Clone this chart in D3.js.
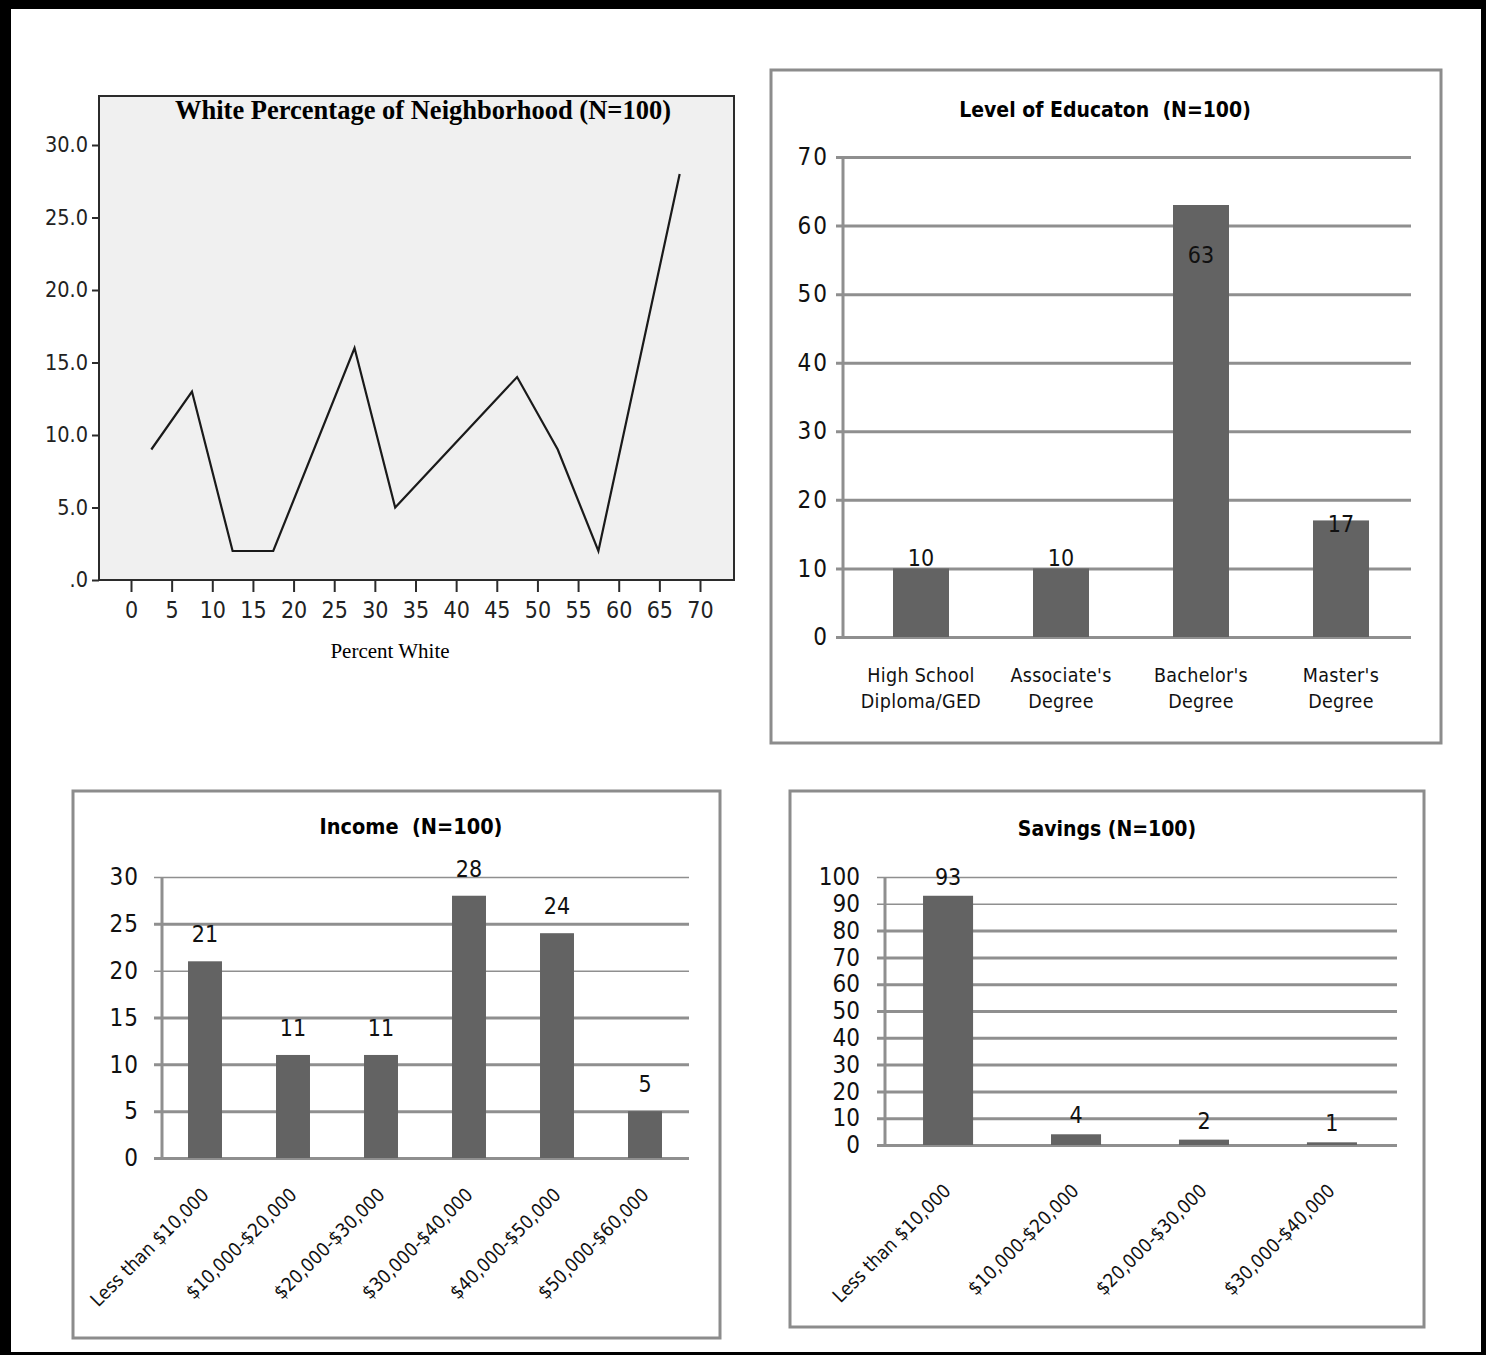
<!DOCTYPE html>
<html>
<head>
<meta charset="utf-8">
<script src="https://cdn.jsdelivr.net/npm/d3@7"></script>
<style>
  html, body { margin: 0; padding: 0; background: #fff; }
  svg { display: block; }
  text { white-space: pre; }
</style>
</head>
<body>
<svg id="fig" width="1486" height="1355"></svg>
<script>
// ---- Data ----
// Percent white of neighbourhood (frequency polygon, bin midpoints)
const pctWhiteMid = [2.5, 7.5, 12.5, 17.5, 27.5, 32.5, 47.5, 52.5, 57.5, 67.5];
const pctWhiteCount = [9, 13, 2, 2, 16, 5, 14, 9, 2, 28];
const pctWhiteXTicks = [0, 5, 10, 15, 20, 25, 30, 35, 40, 45, 50, 55, 60, 65, 70];
const pctWhiteYTicks = [0, 5, 10, 15, 20, 25, 30];

// Level of education
const eduCategories = [["High School", "Diploma/GED"], ["Associate's", "Degree"], ["Bachelor's", "Degree"], ["Master's", "Degree"]];
const eduCounts = [10, 10, 63, 17];
const eduYTicks = [0, 10, 20, 30, 40, 50, 60, 70];

// Income
const incomeCategories = ["Less than $10,000", "$10,000-$20,000", "$20,000-$30,000", "$30,000-$40,000", "$40,000-$50,000", "$50,000-$60,000"];
const incomeCounts = [21, 11, 11, 28, 24, 5];
const incomeYTicks = [0, 5, 10, 15, 20, 25, 30];

// Savings
const savingsCategories = ["Less than $10,000", "$10,000-$20,000", "$20,000-$30,000", "$30,000-$40,000"];
const savingsCounts = [93, 4, 2, 1];
const savingsYTicks = [0, 10, 20, 30, 40, 50, 60, 70, 80, 90, 100];

// ---- Styles ----
const NARROW = "'Liberation Sans Narrow', 'Arial Narrow', 'DejaVu Sans Condensed', 'Roboto', sans-serif";
const SERIF = "'Liberation Serif', 'Times New Roman', serif";
const GRID = "#8f8f8f";
const BAR = "#636363";

const svg = d3.select("#fig");

// Outer black frame
svg.append("rect").attr("x", 0).attr("y", 0).attr("width", 1486).attr("height", 1355).attr("fill", "#000");
svg.append("rect").attr("x", 11).attr("y", 9).attr("width", 1470).attr("height", 1343).attr("fill", "#fff");

// ================= Line chart: White Percentage of Neighborhood =================
(function () {
  const left = 99, right = 734, top = 96, bottom = 580;
  const x = d3.scaleLinear().domain([0, 70]).range([131, 700]);
  const y = d3.scaleLinear().domain([0, 33.38]).range([bottom, top]);
  const g = svg.append("g");

  g.append("rect").attr("x", left).attr("y", top).attr("width", right - left).attr("height", bottom - top)
    .attr("fill", "#f0f0f0").attr("stroke", "#2b2b2b").attr("stroke-width", 2);

  g.append("text").attr("x", 423).attr("y", 119).attr("text-anchor", "middle")
    .attr("font-family", SERIF).attr("font-weight", "bold").attr("font-size", 26.5)
    .text("White Percentage of Neighborhood (N=100)");

  const yAxis = d3.axisLeft(y).tickValues(pctWhiteYTicks).tickSize(7).tickPadding(4)
    .tickFormat(v => v === 0 ? ".0" : v.toFixed(1));
  const ya = g.append("g").attr("transform", `translate(${left},0)`).call(yAxis);
  ya.select(".domain").remove();
  ya.selectAll("line").attr("stroke", "#2b2b2b").attr("stroke-width", 2);
  ya.selectAll("text").attr("font-family", NARROW).attr("font-size", 21.5).attr("fill", "#222");

  const xAxis = d3.axisBottom(x).tickValues(pctWhiteXTicks).tickSize(12).tickPadding(10);
  const xa = g.append("g").attr("transform", `translate(0,${bottom})`).call(xAxis);
  xa.select(".domain").remove();
  xa.selectAll("line").attr("stroke", "#2b2b2b").attr("stroke-width", 2);
  xa.selectAll("text").attr("font-family", NARROW).attr("font-size", 23).attr("fill", "#222");

  g.append("text").attr("x", 390).attr("y", 658).attr("text-anchor", "middle")
    .attr("font-family", SERIF).attr("font-size", 21).text("Percent White");

  const line = d3.line().x((d, i) => x(pctWhiteMid[i])).y(d => y(d));
  g.append("path").datum(pctWhiteCount).attr("d", line)
    .attr("fill", "none").attr("stroke", "#1a1a1a").attr("stroke-width", 2.2).attr("stroke-linejoin", "miter");
})();

// ================= Generic Excel-style bar chart =================
function barChart(opt) {
  const g = svg.append("g");
  g.append("rect").attr("x", opt.box[0]).attr("y", opt.box[1]).attr("width", opt.box[2]).attr("height", opt.box[3])
    .attr("fill", "#fff").attr("stroke", "#8c8c8c").attr("stroke-width", 3);

  g.append("text").attr("x", opt.titleX).attr("y", opt.titleY).attr("text-anchor", "middle")
    .attr("font-family", NARROW).attr("font-weight", "bold").attr("font-size", opt.titleSize)
    .text(opt.title);

  const y = d3.scaleLinear().domain(opt.yDomain).range([opt.bottom, opt.top]);
  const x = d3.scaleBand().domain(d3.range(opt.values.length)).range([opt.xStart, opt.xEnd])
    .paddingInner(opt.padIn).paddingOuter(opt.padOut);

  // gridlines + tick labels through an axis
  const gridW = opt.gridRight - opt.axisX;
  const ya = g.append("g").attr("transform", `translate(${opt.axisX},0)`)
    .call(d3.axisLeft(y).tickValues(opt.yTicks).tickSizeInner(-gridW).tickSizeOuter(0).tickPadding(0));
  ya.select(".domain").remove();
  ya.selectAll(".tick line")
    .attr("x1", -(opt.axisX - opt.gridLeft))
    .attr("stroke", GRID)
    .attr("stroke-width", v => (opt.thinTicks || []).includes(v) ? 1.5 : 3);
  ya.selectAll(".tick text").attr("x", -(opt.axisX - opt.labelRight)).attr("text-anchor", "end")
    .attr("font-family", NARROW).attr("font-size", opt.tickSize).attr("fill", "#111")
    .attr("letter-spacing", opt.tickSpacing || 0);

  // vertical axis line
  g.append("line").attr("x1", opt.axisX).attr("x2", opt.axisX).attr("y1", opt.top).attr("y2", opt.bottom)
    .attr("stroke", GRID).attr("stroke-width", 3);

  // bars
  g.selectAll("rect.bar").data(opt.values).join("rect").attr("class", "bar")
    .attr("x", (d, i) => x(i)).attr("width", x.bandwidth())
    .attr("y", d => y(d)).attr("height", d => y(0) - y(d))
    .attr("fill", BAR);

  // value labels
  g.selectAll("text.val").data(opt.values).join("text").attr("class", "val")
    .attr("x", (d, i) => x(i) + x.bandwidth() / 2 + (opt.valueDx || 0))
    .attr("y", (d, i) => y(d) + opt.valueShift(d, i))
    .attr("dy", "0.35em").attr("text-anchor", "middle")
    .attr("font-family", NARROW).attr("font-size", opt.valueSize).attr("fill", "#111")
    .text(d => d);

  return { g, x, y };
}

// ---- Level of Education ----
(function () {
  const eduLabelShift = [-10, -10, 50, 4];
  const c = barChart({
    box: [771, 70, 670, 673], title: "Level of Educaton  (N=100)", titleX: 1105, titleY: 117, titleSize: 21,
    yDomain: [0, 70], top: 157, bottom: 637, yTicks: eduYTicks,
    axisX: 843, gridLeft: 836, gridRight: 1411, labelRight: 829, tickSize: 24, tickSpacing: 2,
    values: eduCounts, xStart: 851, xEnd: 1411, padIn: 0.6, padOut: 0.3,
    valueSize: 23, valueShift: (d, i) => eduLabelShift[i]
  });
  const cats = c.g.selectAll("text.cat").data(eduCategories).join("text").attr("class", "cat")
    .attr("x", (d, i) => c.x(i) + c.x.bandwidth() / 2).attr("y", 682)
    .attr("text-anchor", "middle").attr("font-family", NARROW).attr("font-size", 19.5)
    .attr("letter-spacing", 0.3).attr("fill", "#111");
  cats.append("tspan").attr("x", (d, i) => c.x(i) + c.x.bandwidth() / 2).text(d => d[0]);
  cats.append("tspan").attr("x", (d, i) => c.x(i) + c.x.bandwidth() / 2).attr("dy", 26).text(d => d[1]);
})();

// ---- Income ----
(function () {
  const c = barChart({
    box: [73, 791, 647, 547], title: "Income  (N=100)", titleX: 411, titleY: 834, titleSize: 21.5,
    yDomain: [0, 30], top: 877, bottom: 1158, yTicks: incomeYTicks, thinTicks: [30, 20],
    axisX: 162, gridLeft: 154, gridRight: 689, labelRight: 139, tickSize: 24, tickSpacing: 1,
    values: incomeCounts, xStart: 161, xEnd: 689, padIn: 0.614, padOut: 0.307,
    valueSize: 23, valueShift: () => -27
  });
  c.g.selectAll("text.cat").data(incomeCategories).join("text").attr("class", "cat")
    .attr("transform", (d, i) => `translate(${c.x(i) + c.x.bandwidth() / 2 + 5},${1196}) rotate(-45)`)
    .attr("text-anchor", "end").attr("font-family", NARROW).attr("font-size", 19).attr("fill", "#111")
    .text(d => d);
})();

// ---- Savings ----
(function () {
  const c = barChart({
    box: [790, 791, 634, 536], title: "Savings (N=100)", titleX: 1107, titleY: 836, titleSize: 21,
    yDomain: [0, 100], top: 877, bottom: 1145, yTicks: savingsYTicks, thinTicks: [100, 90],
    axisX: 885, gridLeft: 877, gridRight: 1397, labelRight: 860, tickSize: 24, tickSpacing: 0,
    values: savingsCounts, xStart: 884, xEnd: 1396, padIn: 0.609, padOut: 0.305,
    valueSize: 23, valueShift: () => -19
  });
  c.g.selectAll("text.cat").data(savingsCategories).join("text").attr("class", "cat")
    .attr("transform", (d, i) => `translate(${c.x(i) + c.x.bandwidth() / 2 + 4},${1192}) rotate(-45)`)
    .attr("text-anchor", "end").attr("font-family", NARROW).attr("font-size", 19).attr("fill", "#111")
    .text(d => d);
})();
</script>
</body>
</html>
